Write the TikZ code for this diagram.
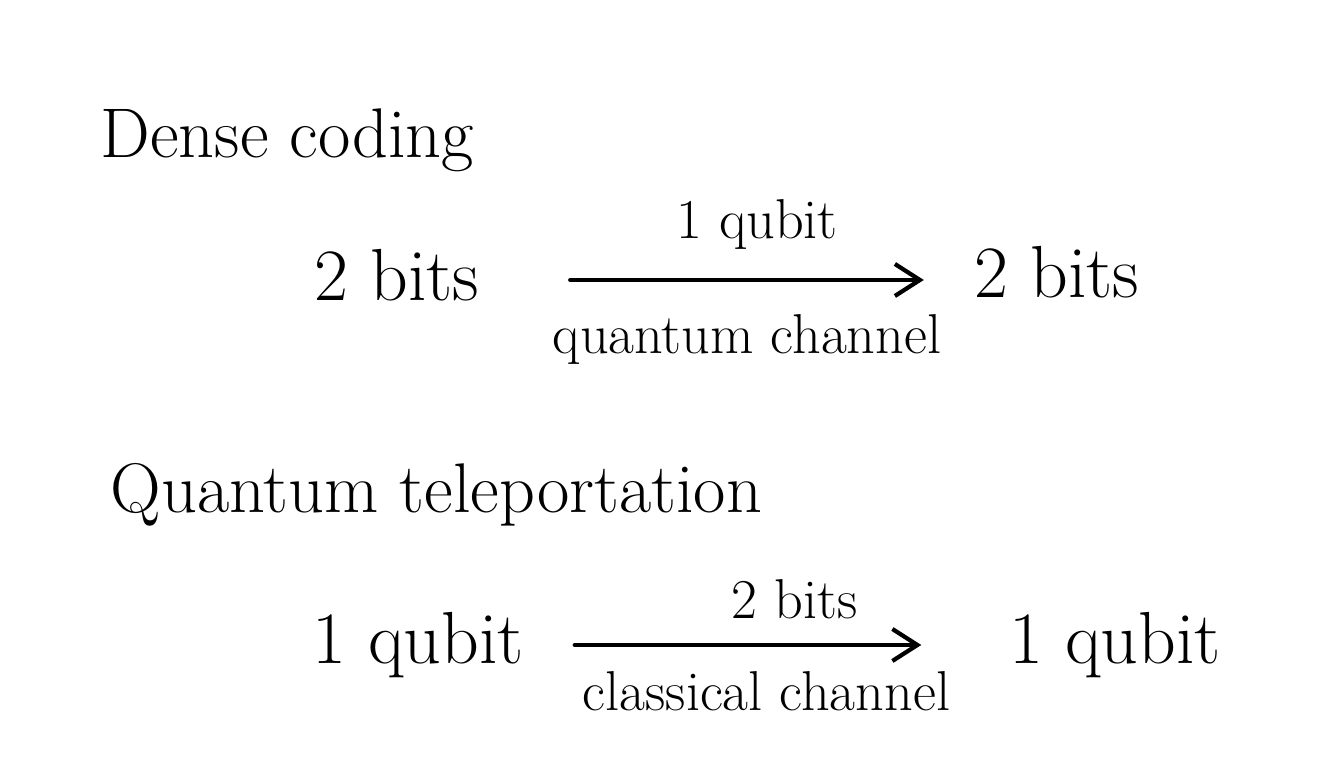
\documentclass[tikz,border=0pt]{standalone}
\usepackage{tikz}
\usetikzlibrary{arrows.meta,positioning}

\begin{document}
\begin{tikzpicture}[
			title node/.style={font=\fontsize{20}{24}\selectfont,inner sep=0pt},
			end node/.style={font=\fontsize{21}{24}\selectfont,inner sep=0pt},
			chan node/.style={font=\fontsize{16}{19}\selectfont,inner sep=0pt},
			chan arrow/.style={-{Straight Barb[length=2.5mm,width=3.2mm]},line width=1.2pt,line cap=round}
			]
			
			\fill[white] (0,0) rectangle (13.41,7.74);
			\useasboundingbox (0,0) rectangle (13.41,7.74);
			
			% dense coding
			\node[title node,anchor=west] (dense) at (1.0,6.34) {Dense coding};
			\node[end node] (dsrc) at (3.97,4.99) {2 bits};
			\node[end node] (ddst) at (10.57,5.02) {2 bits};
			\draw[chan arrow,shorten <=0.9cm,shorten >=0.5cm] (dsrc.east |- 0,4.94) -- (ddst.west |- 0,4.94)
				node[chan node,midway,above=0.28cm,xshift=0.3cm] (dup) {1 qubit}
				node[chan node,midway,below=0.32cm,xshift=0.2cm] (ddown) {quantum channel};
			
			% quantum teleportation
			\node[title node,anchor=west] (tele) at (1.1,2.79) {Quantum teleportation};
			\node[end node] (tsrc) at (4.18,1.29) {1 qubit};
			\node[end node] (tdst) at (11.15,1.29) {1 qubit};
			\draw[chan arrow,shorten <=0.5cm,shorten >=0.87cm] (tsrc.east |- 0,1.29) -- (tdst.west |- 0,1.29)
				node[chan node,midway,above=0.24cm,xshift=0.28cm] (tup) {2 bits}
				node[chan node,midway,below=0.24cm] (tdown) {classical channel};
			
			\end{tikzpicture}
\end{document}
